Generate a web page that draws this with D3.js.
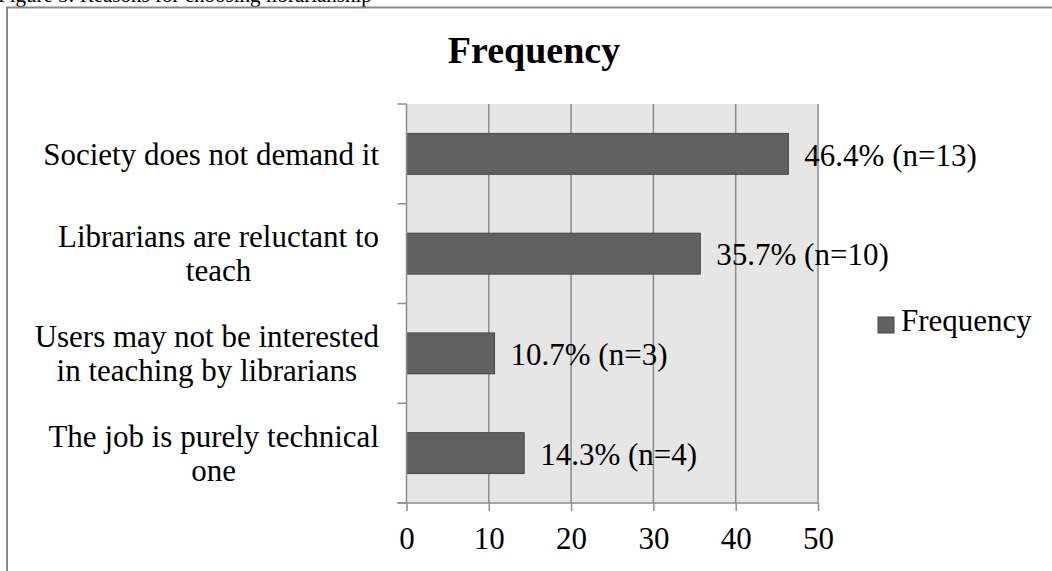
<!DOCTYPE html>
<html><head><meta charset="utf-8">
<script src="https://cdn.jsdelivr.net/npm/d3@7"></script>
<style>
html,body{margin:0;padding:0;background:#fff;}
svg{display:block;font-family:"Liberation Serif","Times New Roman",serif;}
</style></head>
<body>
<svg id="chart" width="1052" height="571"></svg>
<script>
const categories = [
  ["Society does not demand it"],
  ["Librarians are reluctant to", "teach"],
  ["Users may not be interested", "in teaching by librarians"],
  ["The job is purely technical", "one"]
];
const values = [46.4, 35.7, 10.7, 14.3];
const valueLabels = ["46.4% (n=13)", "35.7% (n=10)", "10.7% (n=3)", "14.3% (n=4)"];
const xTicks = [0, 10, 20, 30, 40, 50];
const seriesName = "Frequency";
const chartTitle = "Frequency";
const caption = "Figure 3: Reasons for choosing librarianship";

const svg = d3.select("#chart");
const m = {left: 406.5, right: 818, top: 104, bottom: 503};

// caption (cut off at top, as in the source)
svg.append("text").attr("x", -2).attr("y", 2).attr("font-size", 21).attr("fill", "#000").text(caption);

// outer border
svg.append("rect").attr("x", 7).attr("y", 7.5).attr("width", 1100).attr("height", 600)
  .attr("fill", "none").attr("stroke", "#888").attr("stroke-width", 2);

const x = d3.scaleLinear().domain([0, 50]).range([m.left, m.right]);
const idx = d3.range(categories.length);
const y = d3.scaleBand().domain(idx).range([m.top, m.bottom]).paddingInner(0.59).paddingOuter(0.295);

// plot area
svg.append("rect").attr("x", m.left).attr("y", m.top).attr("width", m.right - m.left).attr("height", m.bottom - m.top)
  .attr("fill", "#e6e6e6");

// grid lines
svg.append("g").selectAll("line").data(xTicks.slice(1)).join("line")
  .attr("x1", d => x(d)).attr("x2", d => x(d)).attr("y1", m.top).attr("y2", m.bottom)
  .attr("stroke", "#8c8c8c").attr("stroke-width", 1.5);

// bars
svg.append("g").selectAll("rect").data(values).join("rect")
  .attr("x", x(0)).attr("y", (d, i) => y(i)).attr("width", d => x(d) - x(0)).attr("height", y.bandwidth())
  .attr("fill", "#616161").attr("stroke", "#464646").attr("stroke-width", 1);

// x axis
const xAxis = d3.axisBottom(x).tickValues(xTicks).tickSize(8).tickPadding(16);
const gx = svg.append("g").attr("transform", `translate(0,${m.bottom})`).call(xAxis);
gx.select(".domain").remove();
gx.append("line").attr("x1", m.left - 9).attr("x2", m.right).attr("y1", 0).attr("y2", 0)
  .attr("stroke", "#8c8c8c").attr("stroke-width", 1.5);
gx.selectAll(".tick line").attr("stroke", "#8c8c8c").attr("stroke-width", 1.5);
gx.selectAll(".tick text").attr("font-size", 31).attr("font-family", "Liberation Serif").attr("fill", "#000").attr("dy", "0.72em");

// y axis line + category boundary ticks
const step = y.step();
const bounds = idx.map(i => y(i) - step * y.paddingInner() / 2).concat([m.bottom]);
svg.append("line").attr("x1", m.left).attr("x2", m.left).attr("y1", m.top).attr("y2", m.bottom)
  .attr("stroke", "#8c8c8c").attr("stroke-width", 1.5);
svg.append("g").selectAll("line").data(bounds).join("line")
  .attr("x1", m.left - 9).attr("x2", m.left).attr("y1", d => d).attr("y2", d => d)
  .attr("stroke", "#8c8c8c").attr("stroke-width", 1.5);

// category labels (centered lines, block right-aligned)
const lineH = 34;
const labelRight = 379;
categories.forEach((lines, i) => {
  const g = svg.append("g");
  const cy = y(i) + y.bandwidth() / 2;
  const t = g.append("text").attr("font-size", 31).attr("text-anchor", "middle").attr("fill", "#000");
  lines.forEach((ln, j) => {
    t.append("tspan").attr("x", 0).attr("y", cy + (j - (lines.length - 1) / 2) * lineH).attr("dy", "0.35em").text(ln);
  });
  let maxW = 0;
  t.selectAll("tspan").each(function () { maxW = Math.max(maxW, this.getComputedTextLength()); });
  t.attr("transform", `translate(${labelRight - maxW / 2},0)`);
});

// value labels
svg.append("g").selectAll("text").data(values).join("text")
  .attr("x", d => x(d) + 16).attr("y", (d, i) => y(i) + y.bandwidth() / 2).attr("dy", "0.38em")
  .attr("font-size", 31).attr("fill", "#000").text((d, i) => valueLabels[i]);

// title
svg.append("text").attr("x", 534).attr("y", 63).attr("text-anchor", "middle")
  .attr("font-size", 38).attr("font-weight", "bold").attr("fill", "#000").text(chartTitle);

// legend
const lg = svg.append("g");
lg.append("rect").attr("x", 878).attr("y", 317).attr("width", 16).attr("height", 16)
  .attr("fill", "#616161").attr("stroke", "#464646").attr("stroke-width", 1);
lg.append("text").attr("x", 901).attr("y", 331).attr("font-size", 31).attr("fill", "#000").text(seriesName);
</script>
</body></html>
